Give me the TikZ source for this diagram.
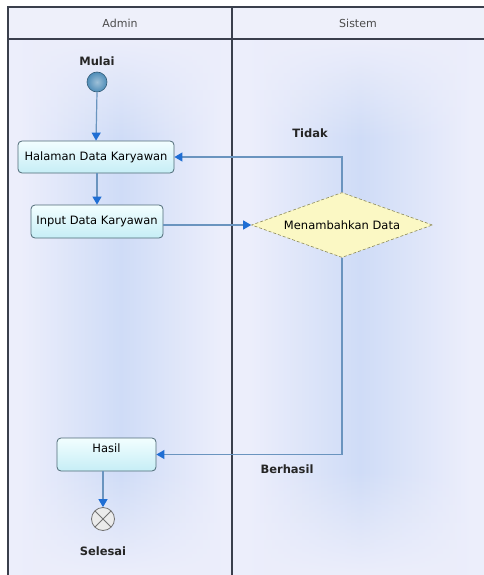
\documentclass[tikz,border=0pt]{standalone}
\usepackage{fontspec}
\setmainfont{DejaVu Sans}
\usetikzlibrary{arrows.meta,shapes.geometric,fadings,calc}

\definecolor{lanebase}{HTML}{ECEEFB}
\definecolor{lanemid}{HTML}{CFDCF7}
\definecolor{headfill}{HTML}{EEF0FA}
\definecolor{frameline}{HTML}{3A3F4C}
\definecolor{flowline}{HTML}{6A94BF}
\definecolor{tipblue}{HTML}{1F6ED4}
\definecolor{boxedge}{HTML}{4E6A76}
\definecolor{boxtop}{HTML}{F2FEFF}
\definecolor{boxbot}{HTML}{C6EEF6}
\definecolor{decfill}{HTML}{FBF8C4}
\definecolor{decedge}{HTML}{8C8A5A}
\definecolor{startball}{HTML}{4F8DB8}

\tikzset{
  x=1pt, y=-1pt,
  every node/.style={font=\fontsize{11.5}{13}\selectfont},
  actbox/.style={draw=boxedge, line width=0.8pt, rounded corners=4pt,
    top color=boxtop, bottom color=boxbot, inner sep=0pt},
  decision/.style={diamond, draw=decedge, line width=0.6pt, densely dashed,
    fill=decfill, inner sep=0pt, minimum width=181pt, minimum height=65pt, aspect=2.8},
  label text/.style={font=\fontsize{11.5}{13}\selectfont\bfseries, text=black!85},
  head text/.style={font=\fontsize{11}{13}\selectfont, text=black!70},
  flow/.style={draw=flowline, line width=1.2pt,
    -{Triangle[width=9pt,length=8pt,color=tipblue]}},
}

\begin{document}
\begin{tikzpicture}
\useasboundingbox (0,0) rectangle (484,575);

% lane backgrounds with a soft blue band down the middle
\fill[lanebase] (8,39) rectangle (484,575);
\shade[left color=lanebase, right color=lanebase, middle color=lanemid]
  (20,39) rectangle (222,575);
\shade[left color=lanebase, right color=lanebase, middle color=lanemid]
  (250,39) rectangle (470,575);
% lighter near the header and the bottom
\fill[lanebase, path fading=south] (8,39) rectangle (484,140);
\fill[lanebase, path fading=north] (8,470) rectangle (484,575);

% header row
\fill[headfill] (8,7) rectangle (484,39);
\draw[frameline, line width=1.1pt] (484,7) -- (8,7) -- (8,575);
\draw[frameline, line width=1.1pt] (8,39) -- (484,39);
\draw[frameline, line width=1.1pt] (232,7) -- (232,575);
\node[head text] (hadmin) at (120,23) {Admin};
\node[head text] (hsistem) at (358,23) {Sistem};

% activity nodes
\node[label text] (lmulai) at (97,61) {Mulai};
\node[circle, draw=startball!65!black, line width=0.6pt, inner sep=0pt,
  minimum size=20pt, inner color=startball!55!white, outer color=startball] (start) at (97,82) {};

\node[actbox, minimum width=156pt, minimum height=32pt] (halaman) at (96,157) {Halaman Data Karyawan};
\node[actbox, minimum width=132pt, minimum height=33pt] (input) at (97,221.5) {Input Data Karyawan};
\node[decision] (dec) at (342,225) {Menambahkan Data};
\node[actbox, minimum width=99pt, minimum height=33pt, text depth=13pt] (hasil) at (106.5,454.5) {Hasil};

\node[circle, draw=black!55, line width=0.8pt, fill=white!92!black, inner sep=0pt,
  minimum size=23pt] (stop) at (103,519) {};
\draw[black!55, line width=0.8pt]
  ($(stop.center)+(-7.8,-7.8)$) -- ($(stop.center)+(7.8,7.8)$)
  ($(stop.center)+(-7.8,7.8)$) -- ($(stop.center)+(7.8,-7.8)$);
\node[label text] (lselesai) at (103,551) {Selesai};

\node[label text] (ltidak) at (310,133) {Tidak};
\node[label text] (lberhasil) at (287,469) {Berhasil};

% control flow
\coordinate (ctop) at (342,157);
\coordinate (cbot) at (342,454.5);
\draw[flow] (start.south) -- (halaman.north);
\draw[flow] (halaman.south -| input.north) -- (input.north);
\draw[flow] (input.east |- dec.west) -- (dec.west);
\draw[flow] (dec.north) -- (ctop) -- (halaman.east |- ctop);
\draw[flow] (dec.south) -- (cbot) -- (hasil.east |- cbot);
\draw[flow] (hasil.south -| stop.north) -- (stop.north);
\end{tikzpicture}
\end{document}
